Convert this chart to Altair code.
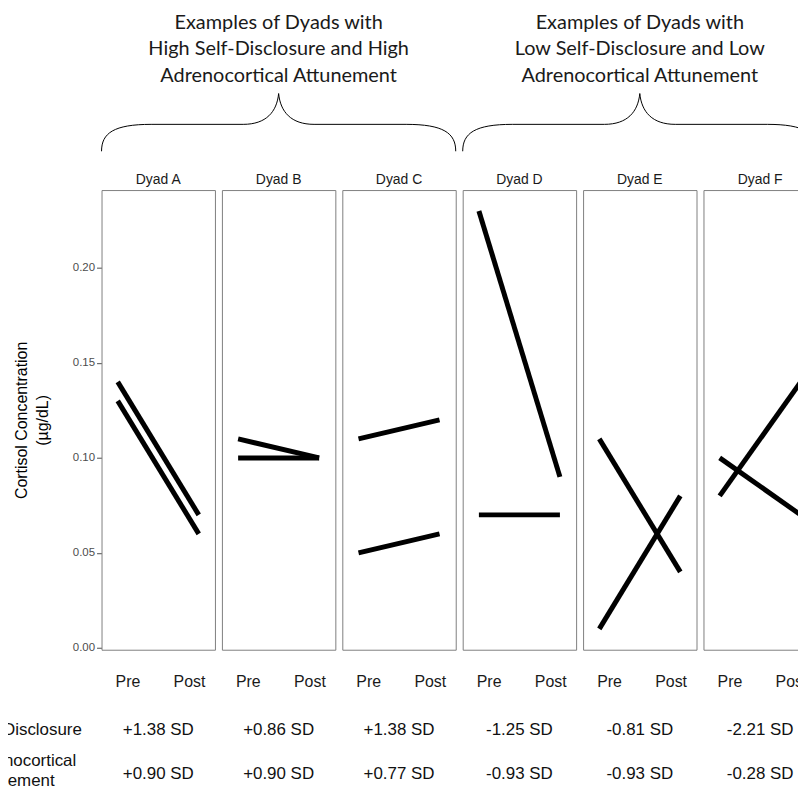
import altair as alt
import pandas as pd

# ---------------- data ----------------
dyads = ["Dyad A", "Dyad B", "Dyad C", "Dyad D", "Dyad E", "Dyad F"]
partner1_pre = [0.14, 0.11, 0.11, 0.23, 0.11, 0.10]
partner1_post = [0.07, 0.10, 0.12, 0.09, 0.04, 0.07]
partner2_pre = [0.13, 0.10, 0.05, 0.07, 0.01, 0.08]
partner2_post = [0.06, 0.10, 0.06, 0.07, 0.08, 0.14]
time_labels = ["Pre", "Post"]
self_disclosure = ["+1.38 SD", "+0.86 SD", "+1.38 SD", "-1.25 SD", "-0.81 SD", "-2.21 SD"]
attunement = ["+0.90 SD", "+0.90 SD", "+0.77 SD", "-0.93 SD", "-0.93 SD", "-0.28 SD"]
row_labels = ["Self-Disclosure", "Adrenocortical\nAttunement"]
group_dyads = ["Dyad B", "Dyad E"]
group_titles = [
    "Examples of Dyads with\nHigh Self-Disclosure and High\nAdrenocortical Attunement",
    "Examples of Dyads with\nLow Self-Disclosure and Low\nAdrenocortical Attunement",
]

rows = []
for i, d in enumerate(dyads):
    for p, (pre, post) in enumerate([(partner1_pre, partner1_post), (partner2_pre, partner2_post)]):
        rows.append(dict(kind="line", dyad=d, person=f"P{p+1}", t=1, value=pre[i]))
        rows.append(dict(kind="line", dyad=d, person=f"P{p+1}", t=2, value=post[i]))
    rows.append(dict(kind="sd", dyad=d, row=1, label=self_disclosure[i]))
    rows.append(dict(kind="sd", dyad=d, row=2, label=attunement[i]))
for r, lab in enumerate(row_labels):
    rows.append(dict(kind="rowlabel", dyad=dyads[0], row=r + 1, label=lab))
for d, t in zip(group_dyads, group_titles):
    rows.append(dict(kind="group", dyad=d, label=t))
df = pd.DataFrame(rows)

# ---------------- geometry ----------------
W, H = 114, 462
FONT = "Liberation Sans"
BRACE = ("M -1 0.163 C -1 0.06 -0.93 0.011 -0.72 0.011 L -0.2 0.011 "
         "C -0.07 0.011 -0.01 -0.06 0 -0.163 C 0.01 -0.06 0.07 0.011 0.2 0.011 "
         "L 0.72 0.011 C 0.93 0.011 1 0.06 1 0.163")

label_expr = f"datum.value < 1.5 ? '{time_labels[0]}' : '{time_labels[1]}'"

lines = alt.Chart().transform_filter("datum.kind == 'line'").mark_line(
    color="black", strokeWidth=5, strokeCap="butt"
).encode(
    x=alt.X("t:Q", title=None,
            scale=alt.Scale(domain=[0.8, 2.2], nice=False, zero=False),
            axis=alt.Axis(values=[1.12, 1.88], labelExpr=label_expr, domain=False,
                          ticks=False, tickSize=0, grid=False, labelFontSize=16,
                          labelFont=FONT, labelColor="#1a1a1a", labelPadding=24)),
    y=alt.Y("value:Q",
            scale=alt.Scale(domain=[-0.001, 0.241], nice=False, zero=False),
            axis=alt.Axis(values=[0, 0.05, 0.10, 0.15, 0.20], format=".2f", domain=False,
                          grid=False, tickSize=5, tickColor="#4d4d4d", labelColor="#4d4d4d",
                          labelFontSize=11.5, labelFont=FONT, labelPadding=2,
                          title=["Cortisol Concentration", "(µg/dL)"], titleFont=FONT,
                          titleFontSize=16, titleFontWeight="normal", titleColor="black",
                          titleLineHeight=21, titlePadding=22)),
    detail="person:N",
)

header = alt.Chart().transform_filter("datum.kind == 'sd' && datum.row == 1").mark_text(
    font=FONT, fontSize=14, color="#1a1a1a", baseline="middle"
).encode(x=alt.value(W / 2), y=alt.value(-10), text="dyad:N")

def sd_layer(r):
    return alt.Chart().transform_filter(f"datum.kind == 'sd' && datum.row == {r}").mark_text(
        font=FONT, fontSize=17, color="#111111", baseline="middle"
    ).encode(x=alt.value(W / 2), y=alt.value(543 if r == 1 else 587), text="label:N")

def rowlab_layer(r):
    return alt.Chart().transform_filter(f"datum.kind == 'rowlabel' && datum.row == {r}").mark_text(
        font=FONT, fontSize=17, color="#111111", align="left", baseline="middle",
        lineBreak="\n", lineHeight=20
    ).encode(x=alt.value(-134), y=alt.value(543 if r == 1 else 574), text="label:N")

group_text = alt.Chart().transform_filter("datum.kind == 'group'").mark_text(
    font="Lato", fontSize=20, color="#1a1a1a", baseline="middle", lineBreak="\n", lineHeight=26.5
).encode(x=alt.value(W / 2), y=alt.value(-168), text="label:N")

brace = alt.Chart().transform_filter("datum.kind == 'group'").mark_point(
    shape=BRACE, size=356 ** 2, filled=False, color="black", strokeWidth=1, opacity=1
).encode(x=alt.value(W / 2), y=alt.value(-68))

layered = alt.layer(
    lines, header, sd_layer(1), sd_layer(2), rowlab_layer(1), rowlab_layer(2), group_text, brace
).properties(width=W, height=H)

chart = layered.facet(
    column=alt.Column("dyad:N", sort=dyads, header=alt.Header(title=None, labels=False)),
    data=df,
    spacing=7,
    bounds="flush",
).properties(
    padding={"left": -41, "top": 2, "right": -22, "bottom": 0}
).configure_view(stroke="#7f7f7f", strokeWidth=1)

chart.save("out.html", embed_options={"renderer": "svg", "actions": False})
